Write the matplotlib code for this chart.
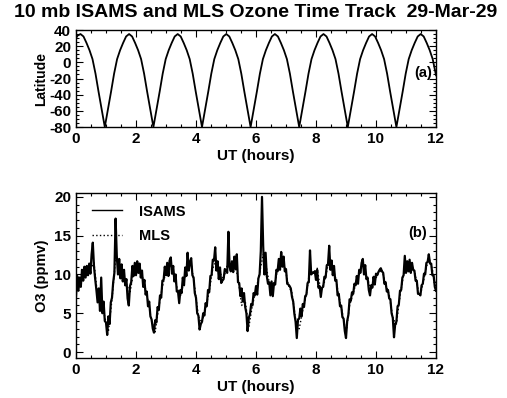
import numpy as np
import matplotlib
matplotlib.use('Agg')
from matplotlib import pyplot as plt
from matplotlib.ticker import MultipleLocator

plt.rcParams['font.family'] = ['Liberation Sans', 'DejaVu Sans']
plt.rcParams['font.weight'] = 'bold'
plt.rcParams['axes.labelweight'] = 'bold'
plt.rcParams['axes.unicode_minus'] = False

# 纬度轨迹 (a)
lat_ut = [0.00, 0.05, 0.15, 0.25, 0.35, 0.45, 0.55, 0.65, 0.75, 0.85, 0.96,
          1.07, 1.17, 1.27, 1.37, 1.47, 1.57, 1.67, 1.77,
          1.87, 1.97, 2.07, 2.17, 2.27, 2.37, 2.47, 2.58,
          2.69, 2.79, 2.89, 2.99, 3.09, 3.19, 3.29, 3.39,
          3.49, 3.59, 3.69, 3.79, 3.89, 3.99, 4.09, 4.20,
          4.31, 4.41, 4.51, 4.61, 4.71, 4.81, 4.91, 5.01,
          5.11, 5.21, 5.31, 5.41, 5.51, 5.61, 5.71, 5.82,
          5.93, 6.03, 6.13, 6.23, 6.33, 6.43, 6.53, 6.63,
          6.73, 6.83, 6.93, 7.03, 7.13, 7.23, 7.33, 7.44,
          7.55, 7.65, 7.75, 7.85, 7.95, 8.05, 8.15, 8.25,
          8.35, 8.45, 8.55, 8.65, 8.75, 8.85, 8.95, 9.06,
          9.17, 9.27, 9.37, 9.47, 9.57, 9.67, 9.77, 9.87,
          9.97, 10.07, 10.17, 10.27, 10.37, 10.47, 10.57, 10.68,
          10.79, 10.89, 10.99, 11.09, 11.19, 11.29, 11.39, 11.49,
          11.59, 11.69, 11.79, 11.89, 11.99, 12.00]
lat = [30, 33, 35, 32, 24, 15, 4, -14, -36, -57, -80,
       -57, -36, -14, 4, 15, 24, 32, 35,
       32, 24, 15, 4, -14, -36, -57, -80,
       -57, -36, -14, 4, 15, 24, 32, 35,
       32, 24, 15, 4, -14, -36, -57, -80,
       -57, -36, -14, 4, 15, 24, 32, 35,
       32, 24, 15, 4, -14, -36, -57, -80,
       -57, -36, -14, 4, 15, 24, 32, 35,
       32, 24, 15, 4, -14, -36, -57, -80,
       -57, -36, -14, 4, 15, 24, 32, 35,
       32, 24, 15, 4, -14, -36, -57, -80,
       -57, -36, -14, 4, 15, 24, 32, 35,
       32, 24, 15, 4, -14, -36, -57, -80,
       -57, -36, -14, 4, 15, 24, 32, 35,
       32, 24, 15, 4, -14, -16]

# ISAMS 臭氧, 每 0.04 小时一个点
isams_o3 = [
    7.2, 9.8, 7.9, 9.6, 8.4, 10.6, 9.2, 11.0, 9.6, 11.1, 9.9, 11.4, 10.1, 12.6, 14.1, 11.0, 9.4, 8.0, 6.4, 8.2, 5.3, 9.6, 5.0, 6.5, 4.0,
    3.8, 2.2, 4.6, 3.6, 6.4, 7.0, 9.0, 10.2, 17.2, 12.4, 10.0, 12.0, 9.5, 11.3, 9.1, 10.6, 8.6, 9.4, 6.9, 6.0, 8.5, 9.0, 11.1, 9.8, 11.5,
    9.9, 11.7, 10.2, 11.4, 9.6, 10.5, 8.4, 9.3, 7.4, 7.8, 5.9, 6.5, 4.6, 4.2, 3.0, 2.5, 4.1, 3.8, 5.8, 5.4, 7.3, 7.0, 9.2, 9.3, 11.0,
    9.9, 11.5, 9.8, 11.8, 12.2, 10.1, 11.1, 9.1, 10.0, 7.8, 7.8, 6.3, 8.0, 7.6, 9.6, 8.6, 10.9, 9.8, 12.8, 10.5, 11.6, 12.1, 9.9, 9.6, 7.6,
    7.0, 5.0, 4.7, 2.9, 3.6, 3.9, 5.0, 4.7, 6.3, 5.9, 8.0, 7.7, 9.8, 9.9, 11.9, 11.8, 13.5, 10.5, 11.7, 9.4, 10.9, 8.9, 9.2, 9.4, 10.7,
    10.5, 10.2, 15.5, 11.0, 10.4, 11.7, 10.3, 12.3, 10.7, 12.6, 9.0, 8.9, 7.2, 8.2, 6.5, 7.6, 5.8, 5.0, 2.7, 4.4, 4.9, 6.2, 6.0, 7.6, 7.3,
    8.5, 7.4, 9.5, 10.0, 13.0, 20.0, 13.6, 10.0, 12.8, 9.8, 8.8, 9.0, 7.3, 9.1, 7.2, 8.9, 8.7, 10.6, 10.4, 12.0, 10.6, 12.9, 11.0, 12.3, 10.4,
    10.7, 8.8, 8.7, 8.5, 8.2, 7.1, 6.5, 4.9, 3.9, 1.8, 4.2, 4.3, 5.6, 4.6, 6.2, 5.8, 7.2, 7.4, 8.9, 9.0, 13.1, 10.0, 10.2, 10.2, 10.4,
    9.3, 10.6, 8.3, 8.5, 7.1, 8.3, 8.4, 9.7, 9.6, 11.2, 11.3, 13.7, 10.6, 11.8, 9.9, 11.1, 9.2, 9.3, 7.3, 7.5, 5.9, 6.0, 4.5, 4.3, 2.7,
    1.8, 4.0, 4.8, 6.8, 6.6, 7.7, 7.5, 8.8, 8.6, 9.8, 8.8, 10.6, 10.2, 11.5, 12.0, 10.0, 11.2, 9.4, 9.6, 8.0, 7.3, 8.6, 8.3, 9.7, 8.7,
    10.1, 9.9, 10.3, 10.6, 10.8, 10.4, 10.2, 8.8, 9.0, 7.8, 8.0, 6.9, 6.8, 5.0, 4.4, 1.9, 3.6, 3.9, 5.9, 6.1, 7.9, 8.0, 9.6, 9.9, 12.4,
    10.2, 11.7, 10.4, 11.9, 10.2, 11.5, 10.6, 10.5, 9.2, 9.2, 7.5, 7.5, 7.3, 8.6, 8.8, 10.1, 10.0, 11.5, 11.6, 12.6, 11.4, 11.4, 9.9, 9.9, 8.4, 7.9]

# MLS 臭氧, 每 0.12 小时一个点
mls_o3 = [
    8.0, 8.8, 9.6, 10.4, 10.6, 11.5, 7.2, 7.0, 4.5, 2.6, 6.8, 12.0, 10.8, 10.2, 8.8, 7.6, 10.4,
    10.8, 10.4, 8.8, 6.6, 4.0, 2.6, 5.8, 8.4, 10.4, 11.2, 10.2, 8.4, 7.2, 9.0, 11.6, 11.4, 8.2,
    4.6, 3.8, 5.6, 7.8, 10.8, 11.8, 10.2, 9.4, 11.2, 10.8, 11.4, 9.6, 6.0, 6.6, 3.2, 6.0, 8.0,
    10.2, 12.6, 10.6, 8.2, 8.4, 10.6, 12.0, 11.0, 8.6, 7.6, 4.2, 3.0, 5.4, 7.4, 10.8, 10.2,
    10.8, 7.8, 9.0, 11.2, 11.0, 9.8, 7.2, 5.0, 2.4, 6.0, 7.6, 9.2, 10.4, 10.8, 9.4, 8.0,
    9.2, 10.2, 10.6, 8.8, 7.4, 4.4, 3.6, 7.2, 10.0, 11.0, 10.8, 10.4, 8.2, 8.0, 10.2, 12.2,
    10.6, 8.2]

isams_ut = np.linspace(0, 12, len(isams_o3))
mls_ut = np.linspace(0, 12, len(mls_o3))

fig = plt.figure(figsize=(5.07, 3.98), dpi=100)
ax1 = fig.add_axes([76 / 507, 1 - 127 / 398, 360 / 507, 97 / 398])
ax2 = fig.add_axes([76 / 507, 1 - 358 / 398, 360 / 507, 165 / 398])

fig.suptitle('10 mb ISAMS and MLS Ozone Time Track  29-Mar-29',
             x=0.505, y=0.99, fontsize=14, fontweight='bold')

# (a)
ax1.plot(lat_ut, lat, color='k', lw=1.3)
ax1.set_xlim(0, 12)
ax1.set_ylim(-80, 40)
ax1.set_yticks([40, 20, 0, -20, -40, -60, -80])
ax1.xaxis.set_major_locator(MultipleLocator(2))
ax1.xaxis.set_minor_locator(MultipleLocator(0.5))
ax1.yaxis.set_minor_locator(MultipleLocator(5))
ax1.set_xlabel('UT (hours)', fontsize=11, labelpad=2)
ax1.set_ylabel('Latitude', fontsize=10, labelpad=1)
ax1.text(0.99, 0.56, '(a)', transform=ax1.transAxes, ha='right', va='center',
         fontsize=10.5, fontweight='bold')

# (b)
ax2.plot(mls_ut, mls_o3, color='k', lw=1.0, ls=':', label='MLS', zorder=2)
ax2.plot(isams_ut, isams_o3, color='k', lw=1.6, label='ISAMS', zorder=3)
ax2.set_xlim(0, 12)
ax2.set_ylim(-0.77, 20.5)
ax2.set_yticks([0, 5, 10, 15, 20])
ax2.xaxis.set_major_locator(MultipleLocator(2))
ax2.xaxis.set_minor_locator(MultipleLocator(0.5))
ax2.yaxis.set_minor_locator(MultipleLocator(1))
ax2.set_xlabel('UT (hours)', fontsize=11, labelpad=2)
ax2.set_ylabel('O3 (ppmv)', fontsize=10.5, labelpad=4)
ax2.text(0.975, 0.758, '(b)', transform=ax2.transAxes, ha='right', va='center',
         fontsize=10.5, fontweight='bold')
handles, labels = ax2.get_legend_handles_labels()
leg = ax2.legend(handles[::-1], labels[::-1], loc='upper left',
                 bbox_to_anchor=(0.044, 0.93), frameon=False,
                 handlelength=2.1, handletextpad=1.1, labelspacing=0.7,
                 borderpad=0, borderaxespad=0,
                 prop={'weight': 'bold', 'size': 10.5})
leg.get_lines()[0].set_linewidth(1.0)

for ax in (ax1, ax2):
    ax.tick_params(which='both', direction='in', top=True, right=True,
                   labelsize=11, width=0.8)
    ax.tick_params(which='major', length=5)
    ax.tick_params(which='minor', length=2.5)
    for s in ax.spines.values():
        s.set_linewidth(1.0)

fig.savefig('out.png', dpi=100)
